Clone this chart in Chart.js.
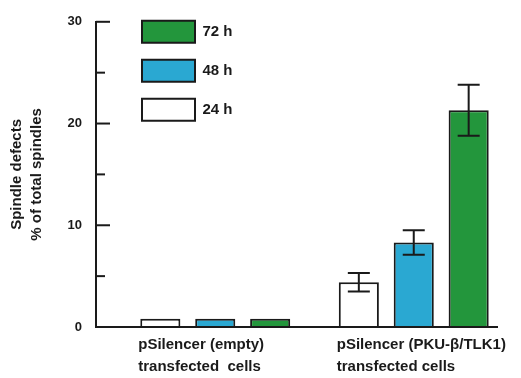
<!DOCTYPE html>
<html>
<head>
<meta charset="utf-8">
<script src="https://cdn.jsdelivr.net/npm/chart.js@4"></script>
<style>
  body { margin: 0; background: #fff; }
</style>
</head>
<body>
<canvas id="spindle-chart" width="521" height="378"></canvas>
<script>
const categories = [
    ["pSilencer (empty)", "transfected  cells"],
    ["pSilencer (PKU-β/TLK1)", "transfected cells"],
];
const seriesLabels = ["24 h", "48 h", "72 h"];
const values24 = [0.8, 4.4];
const errors24 = [0, 0.9];
const values48 = [0.8, 8.3];
const errors48 = [0, 1.2];
const values72 = [0.8, 21.3];
const errors72 = [0, 2.5];
const yMax = 30;
const yStep = 5;
const yTitle = ["Spindle defects", "% of total spindles"];

const font = "'Liberation Sans', Arial, sans-serif";
const ink = "#1a1a1a";

// move the category axis a bit right of the y axis, and the legend into place
const placePlugin = {
    id: "place",
    afterLayout(chart) {
        const a = chart.chartArea;
        const x = chart.scales.x;
        x.left = a.left + 20;
        x.right = a.right + 15;
        x.configure();
        chart.legend.left = a.left + 29;
        chart.legend.top = a.top - 18;
    },
};

// inward tick marks on the y axis
const tickPlugin = {
    id: "inTicks",
    afterDraw(chart) {
        const y = chart.scales.y;
        const left = chart.chartArea.left;
        const ctx = chart.ctx;
        ctx.save();
        ctx.strokeStyle = ink;
        ctx.lineWidth = 2;
        y.ticks.forEach((t) => {
            const py = y.getPixelForValue(t.value);
            const len = t.value % 10 === 0 ? 14 : 9;
            ctx.beginPath();
            ctx.moveTo(left, py);
            ctx.lineTo(left + len, py);
            ctx.stroke();
        });
        ctx.restore();
    },
};

const errorPlugin = {
    id: "errorBars",
    afterDatasetsDraw(chart) {
        const ctx = chart.ctx;
        const y = chart.scales.y;
        ctx.save();
        ctx.strokeStyle = ink;
        ctx.lineWidth = 2;
        chart.data.datasets.forEach((ds, i) => {
            const meta = chart.getDatasetMeta(i);
            ds.errors.forEach((e, j) => {
                if (!e) return;
                const bar = meta.data[j];
                const top = y.getPixelForValue(ds.data[j] + e);
                const bottom = y.getPixelForValue(ds.data[j] - e);
                ctx.beginPath();
                ctx.moveTo(bar.x, top);
                ctx.lineTo(bar.x, bottom);
                ctx.moveTo(bar.x - 11, top);
                ctx.lineTo(bar.x + 11, top);
                ctx.moveTo(bar.x - 11, bottom);
                ctx.lineTo(bar.x + 11, bottom);
                ctx.stroke();
            });
        });
        ctx.restore();
    },
};

const data = {
    labels: categories,
    datasets: [
        {
            label: seriesLabels[0],
            data: values24,
            errors: errors24,
            backgroundColor: "#ffffff",
            borderColor: ink,
            borderWidth: 2,
        },
        {
            label: seriesLabels[1],
            data: values48,
            errors: errors48,
            backgroundColor: "#2aa8d2",
            borderColor: ink,
            borderWidth: 2,
        },
        {
            label: seriesLabels[2],
            data: values72,
            errors: errors72,
            backgroundColor: "#23963c",
            borderColor: ink,
            borderWidth: 2,
        },
    ],
};

const config = {
    type: "bar",
    data,
    options: {
        responsive: false,
        animation: false,
        categoryPercentage: 0.83,
        barPercentage: 0.73,
        layout: { padding: { top: 19, right: 23, left: 0, bottom: 0 } },
        plugins: {
            tooltip: { enabled: false },
            legend: {
                position: "chartArea",
                align: "start",
                reverse: true,
                labels: {
                    boxWidth: 53,
                    boxHeight: 22,
                    padding: 17,
                    color: ink,
                    font: { family: font, size: 15, weight: "bold" },
                },
            },
        },
        scales: {
            x: {
                offset: true,
                grid: { display: false },
                border: { display: false },
                ticks: {
                    align: "start",
                    labelOffset: -77,
                    padding: -1,
                    autoSkip: false,
                    maxRotation: 0,
                    color: ink,
                    font: { family: font, size: 15, weight: "bold", lineHeight: 1.45 },
                },
                afterFit(scale) {
                    scale.height = 51;
                    scale.paddingLeft = 0;
                    scale.paddingRight = 0;
                },
            },
            y: {
                min: 0,
                max: yMax,
                ticks: {
                    stepSize: yStep,
                    padding: 14,
                    color: ink,
                    font: { family: font, size: 13, weight: "bold" },
                    callback: (v) => (v % 10 === 0 ? v : ""),
                },
                grid: {
                    drawTicks: false,
                    lineWidth: 2,
                    color: (c) => (c.tick && c.tick.value === 0 ? ink : "transparent"),
                },
                border: { display: true, color: ink, width: 2 },
                title: {
                    display: true,
                    text: yTitle,
                    color: ink,
                    padding: { top: 7, bottom: 0 },
                    font: { family: font, size: 15, weight: "bold", lineHeight: 1.33 },
                },
                afterFit(scale) {
                    scale.width = 96;
                },
            },
        },
    },
    plugins: [placePlugin, tickPlugin, errorPlugin],
};

new Chart(document.getElementById("spindle-chart"), config);
</script>
</body>
</html>
